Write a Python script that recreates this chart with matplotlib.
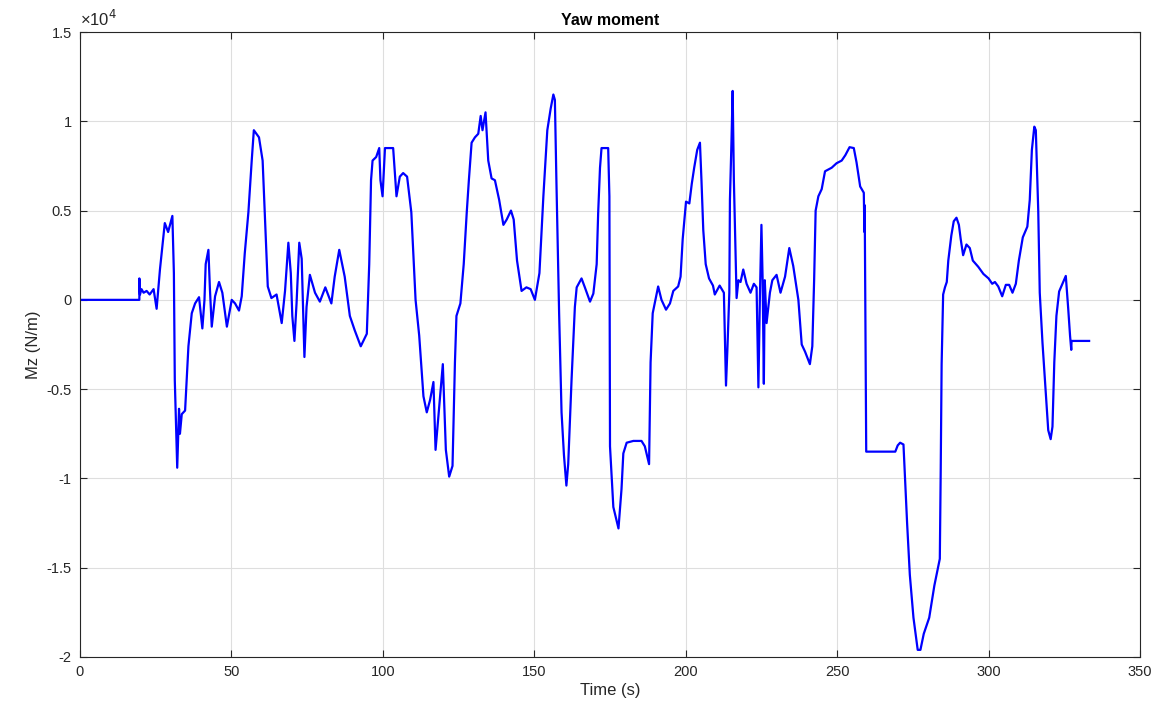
import numpy as np
import matplotlib.pyplot as plt

plt.rcParams['font.family'] = ['Liberation Sans', 'DejaVu Sans']

# yaw moment trace, Mz in units of 1e4 N*m
t = [0, 19.6, 19.6, 19.8, 20.3, 21, 22, 23, 24.3, 25.3, 26.4, 27.2, 28, 29.1, 30.5,
     31, 31.3, 32.1, 32.7, 33, 33.6, 34.7, 35.8, 36.9, 38, 39.3, 40.4, 41.1, 41.5,
     42.4, 42.9, 43.5, 44.6, 45.9, 47, 48.5, 50.1, 51.2, 52.5, 53.4, 54.4, 55.6,
     56.7, 57.4, 59.1, 60.3, 61, 62, 63.2, 64.9, 66.6, 67.7, 68.8, 69.6, 70.1, 70.8,
     71.5, 72.4, 73.2, 74.1, 74.8, 75.9, 77.6, 79.2, 81, 83, 84.1, 85.6, 87.4, 89.1,
     90.7, 92.7, 94.7, 95.5, 96.1, 96.6, 97.8, 98.8, 99.2, 99.9, 100.7, 103.4, 104.5,
     105.6, 106.7, 108, 109.4, 110.8, 112, 113.4, 114.5, 115.6, 116.7, 117.4, 118.9,
     119.8, 120.8, 121.9, 123, 123.8, 124.3, 125.6, 126.7, 127.7, 128.4, 129.3, 130.4,
     131.5, 132.3, 132.9, 133.9, 134.8, 135.9, 137, 138.4, 139.8, 140.9, 142.3, 143.2,
     144.3, 145.8, 147.4, 148.8, 150.2, 151.7, 153, 154.3, 155.4, 156.3, 156.8, 157.3,
     158.2, 159, 159.8, 160.6, 161.2, 162.3, 163.4, 164, 165.6, 166.7, 168.4, 169.5,
     170.6, 171.1, 171.7, 172.2, 174.4, 174.8, 175, 176.1, 177.8, 178.8, 179.4, 180.5,
     182.7, 185.4, 186.5, 187.9, 188.4, 189.1, 190.9, 192, 193.5, 194.8, 195.9, 197.5,
     198.3, 199, 200.1, 201.2, 202, 202.8, 203.8, 204.7, 205.2, 205.8, 206.6, 207.7,
     209, 209.6, 211.2, 212.6, 213.3, 213.8, 214.4, 214.6, 215.1, 215.5, 215.9, 216.4,
     216.8, 217.4, 218.1, 219, 220.1, 221.4, 222.5, 223.4, 224, 224.5, 225, 225.4,
     225.8, 226.1, 226.7, 227.8, 228.6, 230, 231.3, 232.8, 234.2, 235.5, 237.2, 238.3,
     239.4, 241, 241.8, 242.4, 242.9, 243.8, 244.9, 246, 248.2, 249.8, 251.5, 252.7,
     254.1, 255.5, 256.4, 257.6, 258.8, 259, 259.1, 259.6, 269.2, 270, 270.8, 271.9,
     273.1, 274, 275.2, 276.6, 277.5, 278.6, 280.4, 282.1, 283.9, 284.2, 284.5, 285,
     285.6, 286.2, 286.7, 287.7, 288.5, 289.4, 290.2, 290.8, 291.6, 292.7, 293.8, 294.8,
     296.6, 298.3, 300, 301.2, 302.1, 303.2, 304.5, 305.7, 306.8, 307.9, 309, 310,
     311.3, 312.8, 313.6, 314.3, 315.1, 315.6, 316.4, 316.9, 317.8, 318.9, 319.7, 320.5,
     321.1, 321.7, 322.4, 323.3, 324.4, 325.5, 326.3, 326.9, 327.3, 327.4, 333.2]
mz = [0, 0, 0.12, 0.03, 0.06, 0.04, 0.05, 0.03, 0.06, -0.05, 0.17, 0.3, 0.43, 0.38, 0.47,
      0.15, -0.45, -0.94, -0.61, -0.75, -0.64, -0.62, -0.26, -0.075, -0.02, 0.015, -0.16, 0, 0.2,
      0.28, 0.06, -0.15, 0.02, 0.1, 0.04, -0.15, 0, -0.02, -0.06, 0.02, 0.26, 0.49,
      0.78, 0.95, 0.91, 0.78, 0.49, 0.075, 0.01, 0.03, -0.13, 0.05, 0.32, 0.15, -0.09, -0.23,
      -0.02, 0.32, 0.23, -0.32, -0.04, 0.14, 0.04, -0.01, 0.07, -0.02, 0.13, 0.28, 0.13, -0.09,
      -0.17, -0.26, -0.19, 0.2, 0.67, 0.78, 0.8, 0.85, 0.67, 0.58, 0.85, 0.85, 0.58,
      0.69, 0.71, 0.69, 0.49, 0, -0.2, -0.54, -0.63, -0.56, -0.46, -0.84, -0.54,
      -0.36, -0.84, -0.99, -0.93, -0.35, -0.09, -0.02, 0.2, 0.49, 0.67, 0.88, 0.91,
      0.93, 1.03, 0.95, 1.05, 0.78, 0.68, 0.67, 0.56, 0.42, 0.45, 0.5, 0.45,
      0.22, 0.05, 0.07, 0.06, 0, 0.15, 0.58, 0.95, 1.07, 1.15, 1.12, 0.67,
      -0.075, -0.63, -0.87, -1.04, -0.92, -0.45, -0.04, 0.07, 0.12, 0.07, -0.01, 0.035,
      0.2, 0.49, 0.74, 0.85, 0.85, 0.58, -0.82, -1.16, -1.28, -1.06, -0.86, -0.80,
      -0.79, -0.79, -0.82, -0.92, -0.35, -0.075, 0.075, 0, -0.055, -0.02, 0.05, 0.075,
      0.13, 0.34, 0.55, 0.54, 0.65, 0.74, 0.84, 0.88, 0.67, 0.39, 0.2, 0.12,
      0.08, 0.03, 0.08, 0.04, -0.48, -0.26, 0.04, 0.56, 0.88, 1.17, 0.67, 0.3,
      0.01, 0.11, 0.1, 0.17, 0.09, 0.04, 0.09, 0.07, -0.49, 0.02, 0.42, 0.11,
      -0.47, 0.11, -0.13, 0.04, 0.11, 0.14, 0.04, 0.13, 0.29, 0.19, 0, -0.25,
      -0.29, -0.36, -0.26, 0.11, 0.5, 0.58, 0.62, 0.72, 0.74, 0.765, 0.78, 0.81,
      0.855, 0.85, 0.77, 0.635, 0.6, 0.38, 0.53, -0.85, -0.85, -0.815, -0.80, -0.81,
      -1.25, -1.54, -1.78, -1.96, -1.96, -1.87, -1.78, -1.6, -1.45, -0.95, -0.36, 0.03,
      0.07, 0.1, 0.22, 0.36, 0.44, 0.46, 0.42, 0.34, 0.25, 0.31, 0.29, 0.22,
      0.185, 0.145, 0.12, 0.09, 0.1, 0.075, 0.02, 0.084, 0.084, 0.04, 0.09, 0.22,
      0.35, 0.41, 0.56, 0.84, 0.97, 0.95, 0.5, 0.04, -0.24, -0.52, -0.73, -0.78,
      -0.71, -0.35, -0.09, 0.047, 0.09, 0.134, -0.05, -0.2, -0.28, -0.23, -0.23]

xticks = np.arange(0, 351, 50)
yticks = np.arange(-2, 1.51, 0.5)

fig = plt.figure(figsize=(11.64, 7.2), dpi=100)
ax = fig.add_axes([80 / 1164, 63 / 720, 1060 / 1164, 625 / 720])

ax.plot(t, mz, color='#0000ff', lw=1.6)

ax.set_xlim(0, 350)
ax.set_ylim(-2, 1.5)
ax.set_xticks(xticks)
ax.set_yticks(yticks)
ax.set_xticklabels(['%g' % v for v in xticks])
ax.set_yticklabels(['%g' % v for v in yticks])

ax.grid(True, color='#dedede', lw=0.8)
ax.set_axisbelow(True)
ax.tick_params(direction='in', top=True, right=True, length=5, width=0.8,
               colors='#262626', labelsize=10.5, pad=6)
for s in ax.spines.values():
    s.set_color('#262626')
    s.set_linewidth(0.8)

ax.set_title('Yaw moment', fontsize=11.5, fontweight='bold', color='#000000', pad=5)
ax.set_xlabel('Time (s)', fontsize=12, color='#262626', labelpad=3)
ax.set_ylabel('Mz (N/m)', fontsize=12, color='#262626', labelpad=4)

# exponent label for the y axis
ax.text(0.0, 1.004, '\u00d710$^{4}$', transform=ax.transAxes, fontsize=12,
        color='#262626', va='bottom', ha='left')

fig.savefig('out.png', dpi=100, facecolor='white')
